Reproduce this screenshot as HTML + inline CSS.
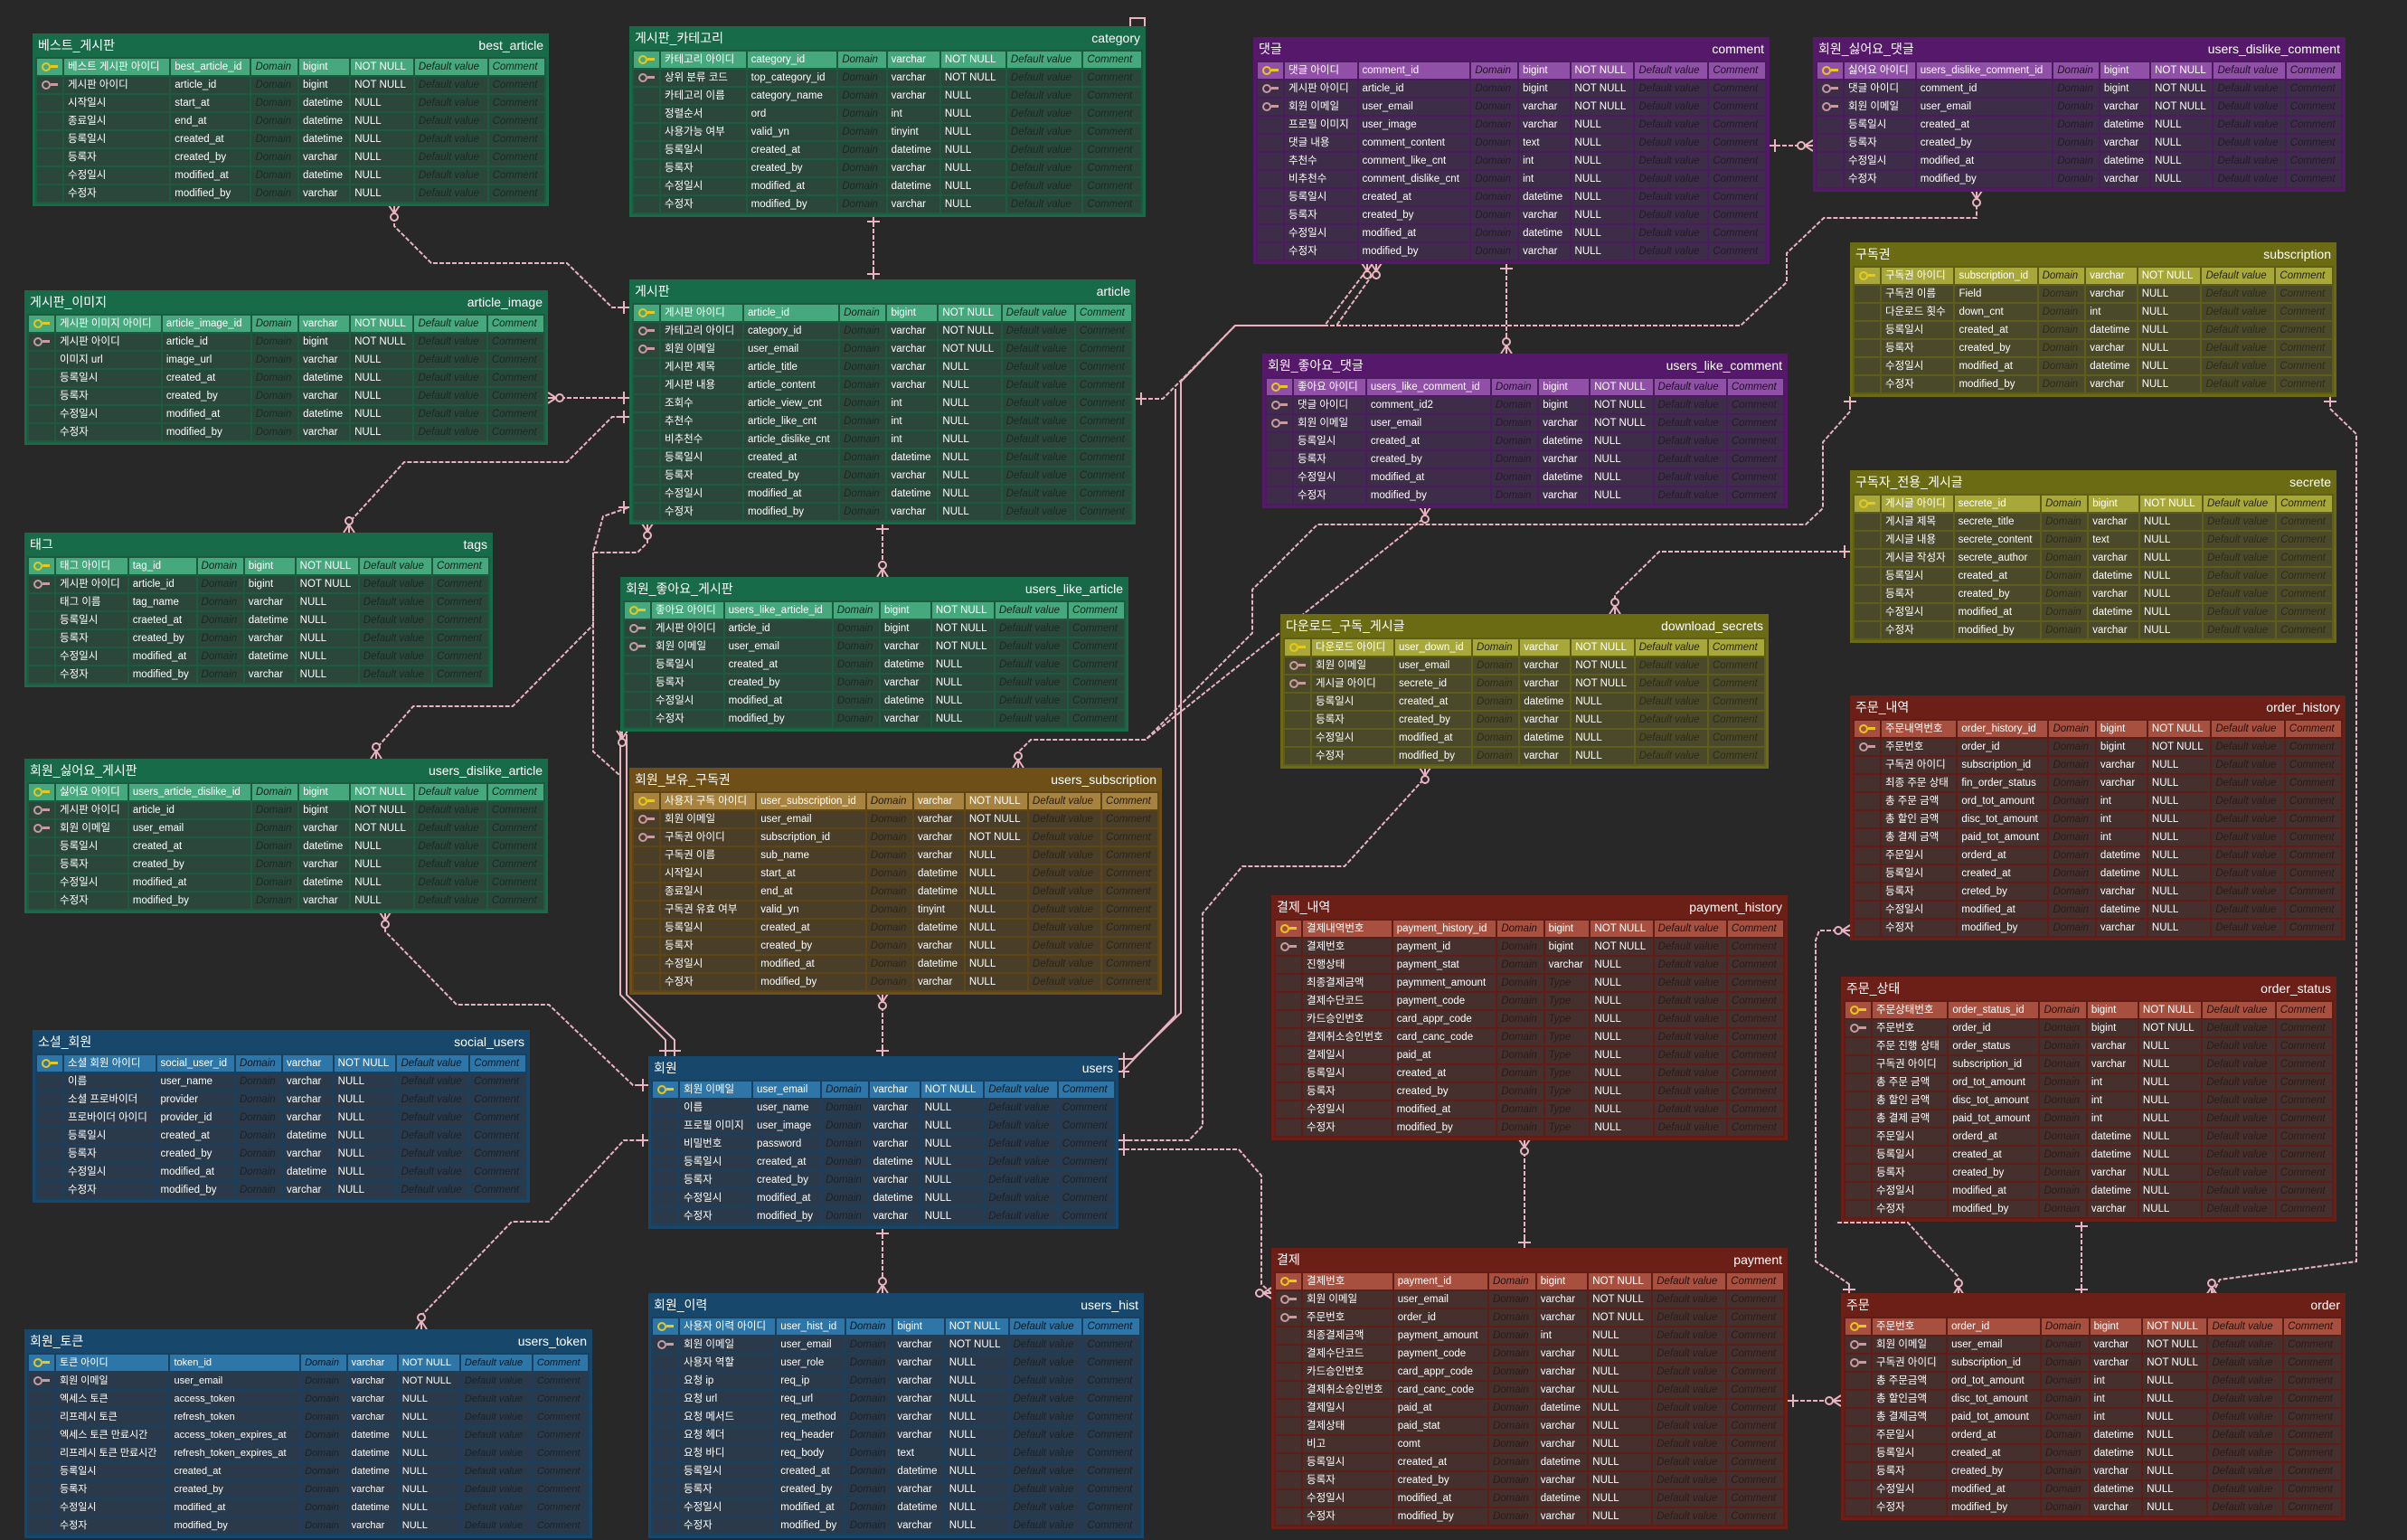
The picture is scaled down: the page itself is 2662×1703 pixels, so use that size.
<!DOCTYPE html>
<html><head><meta charset="utf-8">
<style>
html,body{margin:0;padding:0;background:#282828;}
body{width:2662px;height:1703px;position:relative;overflow:hidden;font-family:"Liberation Sans","Noto Sans CJK KR",sans-serif;}
svg.c{position:absolute;left:0;top:0;}
.t{position:absolute;box-sizing:border-box;padding:0 3px 3px;background:var(--c1);}
.h{height:26px;display:flex;justify-content:space-between;align-items:center;color:#fff;font-size:14px;padding:0 3px;}
table{width:100%;border-spacing:2px;background:var(--gp);font-size:11.5px;color:#fff;}
td{height:18px;line-height:18px;padding:0 4px;background:var(--bd);white-space:nowrap;overflow:hidden;}
td:first-child{width:22px;padding:0 3px;}
td:nth-child(4),td:nth-child(7),td:nth-child(8){font-style:italic;color:rgba(0,0,0,.42);}
tr:first-child td{background:var(--hd);}
tr:first-child td:nth-child(4),tr:first-child td:nth-child(7),tr:first-child td:nth-child(8){color:rgba(0,0,0,.8);}
i.k,i.f{display:inline-block;width:6px;height:6px;border:2px solid #e8c81c;border-radius:50%;position:relative;vertical-align:middle;margin-left:2px}
i.k::after,i.f::after{content:"";position:absolute;left:8px;top:1px;width:8px;height:3px;background:#e8c81c;}
i.f{border-color:#c99aa2;}i.f::after{background:#c99aa2;}
.gr{--c1:#176b48;--hd:#45a97d;--bd:#2b473c;--gp:#1d5a3f;}
.pu{--c1:#55186b;--hd:#9050a8;--bd:#3e2d48;--gp:#4a1c5e;}
.ol{--c1:#6b6b14;--hd:#a8a83a;--bd:#4a4a2a;--gp:#5e5e18;}
.br{--c1:#6e4f17;--hd:#a8833f;--bd:#4a3e28;--gp:#5e4516;}
.bl{--c1:#17476b;--hd:#2e75a8;--bd:#2a3a4a;--gp:#1a4060;}
.rd{--c1:#6b1f17;--hd:#a85040;--bd:#46302d;--gp:#5e1d17;}
</style></head><body>
<svg class="c" width="2662" height="1703" viewBox="0 0 2662 1703">
<defs>
<g id="cf" fill="none" stroke="#eab3c0" stroke-width="2"><path d="M-6,0 L0,9 M6,0 L0,9 M0,0 L0,18"/><circle cx="0" cy="13" r="4" fill="#282828"/></g>
<g id="on" fill="none" stroke="#eab3c0" stroke-width="2"><path d="M0,0 L0,12 M-7,6 L7,6"/></g>
</defs>
<g fill="none" stroke="#eab3c0" stroke-width="2" stroke-dasharray="5,2">
<polyline points="436,240 436,250 477,291 627,291 677,340 696,340"/>
<polyline points="606,440 696,440"/>
<polyline points="386,589 386,578 447,511 627,511 677,461 696,461"/>
<polyline points="416,839 416,828 457,781 567,781 656,691 656,611 667,571 696,561"/>
<polyline points="716,582 716,600 705,611 656,611 656,831 685,857"/>
<polyline points="426,1019 426,1030 505,1111 607,1111 700,1200 717,1200"/>
<polyline points="466,1470 466,1455 566,1351 607,1351 690,1261 717,1261"/>
<polyline points="966,239 966,309"/>
<polyline points="976,579 976,638"/>
<polyline points="976,1099 976,1168"/>
<polyline points="976,1358 976,1430"/>
<polyline points="2046,441 2046,455 2016,489 2016,562 1997,580 1457,580 1385,652 1385,700 1267,818 1140,818 1126,832 1126,849"/>
<polyline points="1576,561 1576,572 1267,818"/>
<polyline points="1256,441 1286,441 1366,360 1465,360 1512,298"/>
<polyline points="1522,298 1478,360"/>
<polyline points="1366,360 1925,360 1976,312 1976,280 2017,241 2186,241 2186,211"/>
<polyline points="1666,291 1666,391"/>
<polyline points="1957,161 2005,161"/>
<polyline points="2046,610 1835,610 1786,658 1786,679"/>
<polyline points="1576,849 1576,860 1487,958 1374,958 1330,1010 1330,1245 1315,1261 1237,1261"/>
<polyline points="1237,1271 1370,1271 1395,1300 1395,1420 1406,1430"/>
<polyline points="2046,1029 2012,1029 2008,1040 2008,1395 2045,1420 2045,1432"/>
<polyline points="1977,1549 2036,1549"/>
<polyline points="1686,1260 1686,1380"/>
<polyline points="2302,1350 2302,1430"/>
<polyline points="2577,438 2577,452 2606,480 2606,1395 2455,1415 2446,1432"/>
<polyline points="2166,1432 2166,1412 2135,1380 2110,1352 2030,1352"/>
</g>
<g fill="none" stroke="#eab3c0" stroke-width="2">
<polyline points="686,808 686,1100 736,1150 736,1168"/>
<polyline points="693,812 693,1100 746,1150 746,1168"/>
<polyline points="1366,360 1306,422 1306,1120 1253,1171 1237,1171"/>
<polyline points="1300,430 1300,1123 1241,1185 1237,1185"/>
<path d="M1250,29 V20 H1266 V50 H1257"/>
</g>
<use href="#cf" transform="translate(436,227)"/>
<use href="#on" transform="translate(696,340) rotate(90)"/>
<use href="#cf" transform="translate(606,440) rotate(-90)"/>
<use href="#on" transform="translate(696,440) rotate(90)"/>
<use href="#cf" transform="translate(386,589) rotate(180)"/>
<use href="#on" transform="translate(696,461) rotate(90)"/>
<use href="#cf" transform="translate(416,839) rotate(180)"/>
<use href="#on" transform="translate(696,561) rotate(90)"/>
<use href="#cf" transform="translate(716,579)"/>
<use href="#cf" transform="translate(688,808)"/>
<use href="#on" transform="translate(736,1168) rotate(180)"/>
<use href="#on" transform="translate(746,1168) rotate(180)"/>
<use href="#on" transform="translate(966,239)"/>
<use href="#on" transform="translate(966,309) rotate(180)"/>
<use href="#on" transform="translate(976,579)"/>
<use href="#cf" transform="translate(976,638) rotate(180)"/>
<use href="#cf" transform="translate(976,1099)"/>
<use href="#on" transform="translate(976,1168) rotate(180)"/>
<use href="#on" transform="translate(976,1358)"/>
<use href="#cf" transform="translate(976,1430) rotate(180)"/>
<use href="#cf" transform="translate(1126,849) rotate(180)"/>
<use href="#cf" transform="translate(426,1009)"/>
<use href="#on" transform="translate(717,1200) rotate(90)"/>
<use href="#cf" transform="translate(466,1470) rotate(180)"/>
<use href="#on" transform="translate(717,1261) rotate(90)"/>
<use href="#cf" transform="translate(1512,291)"/>
<use href="#cf" transform="translate(1522,291)"/>
<use href="#on" transform="translate(1666,291)"/>
<use href="#cf" transform="translate(1666,391) rotate(180)"/>
<use href="#cf" transform="translate(2186,211)"/>
<use href="#on" transform="translate(1957,161) rotate(-90)"/>
<use href="#cf" transform="translate(2005,161) rotate(90)"/>
<use href="#cf" transform="translate(1576,561)"/>
<use href="#on" transform="translate(2046,438)"/>
<use href="#on" transform="translate(2046,610) rotate(90)"/>
<use href="#cf" transform="translate(1786,679) rotate(180)"/>
<use href="#cf" transform="translate(1576,849)"/>
<use href="#on" transform="translate(1256,441) rotate(-90)"/>
<use href="#on" transform="translate(1237,1171) rotate(-90)"/>
<use href="#on" transform="translate(1237,1185) rotate(-90)"/>
<use href="#on" transform="translate(1237,1261) rotate(-90)"/>
<use href="#on" transform="translate(1237,1271) rotate(-90)"/>
<use href="#cf" transform="translate(1406,1430) rotate(90)"/>
<use href="#cf" transform="translate(2046,1029) rotate(90)"/>
<use href="#on" transform="translate(2045,1432) rotate(180)"/>
<use href="#on" transform="translate(1977,1549) rotate(-90)"/>
<use href="#cf" transform="translate(2036,1549) rotate(90)"/>
<use href="#cf" transform="translate(1686,1260)"/>
<use href="#on" transform="translate(1686,1380) rotate(180)"/>
<use href="#on" transform="translate(2302,1350)"/>
<use href="#on" transform="translate(2302,1432) rotate(180)"/>
<use href="#on" transform="translate(2577,438)"/>
<use href="#cf" transform="translate(2446,1432) rotate(180)"/>
<use href="#cf" transform="translate(2166,1432) rotate(180)"/>
</svg>

<div class="t gr" style="left:36px;top:37px;width:571px"><div class="h"><span>베스트_게시판</span><span>best_article</span></div><table>
<tr><td><i class=k></i><td>베스트 게시판 아이디<td>best_article_id<td>Domain<td>bigint<td>NOT NULL<td>Default value<td>Comment
<tr><td><i class=f></i><td>게시판 아이디<td>article_id<td>Domain<td>bigint<td>NOT NULL<td>Default value<td>Comment
<tr><td><td>시작일시<td>start_at<td>Domain<td>datetime<td>NULL<td>Default value<td>Comment
<tr><td><td>종료일시<td>end_at<td>Domain<td>datetime<td>NULL<td>Default value<td>Comment
<tr><td><td>등록일시<td>created_at<td>Domain<td>datetime<td>NULL<td>Default value<td>Comment
<tr><td><td>등록자<td>created_by<td>Domain<td>varchar<td>NULL<td>Default value<td>Comment
<tr><td><td>수정일시<td>modified_at<td>Domain<td>datetime<td>NULL<td>Default value<td>Comment
<tr><td><td>수정자<td>modified_by<td>Domain<td>varchar<td>NULL<td>Default value<td>Comment
</table></div>

<div class="t gr" style="left:696px;top:29px;width:571px"><div class="h"><span>게시판_카테고리</span><span>category</span></div><table>
<tr><td><i class=k></i><td>카테고리 아이디<td>category_id<td>Domain<td>varchar<td>NOT NULL<td>Default value<td>Comment
<tr><td><i class=f></i><td>상위 분류 코드<td>top_category_id<td>Domain<td>varchar<td>NOT NULL<td>Default value<td>Comment
<tr><td><td>카테고리 이름<td>category_name<td>Domain<td>varchar<td>NULL<td>Default value<td>Comment
<tr><td><td>정렬순서<td>ord<td>Domain<td>int<td>NULL<td>Default value<td>Comment
<tr><td><td>사용가능 여부<td>valid_yn<td>Domain<td>tinyint<td>NULL<td>Default value<td>Comment
<tr><td><td>등록일시<td>created_at<td>Domain<td>datetime<td>NULL<td>Default value<td>Comment
<tr><td><td>등록자<td>created_by<td>Domain<td>varchar<td>NULL<td>Default value<td>Comment
<tr><td><td>수정일시<td>modified_at<td>Domain<td>datetime<td>NULL<td>Default value<td>Comment
<tr><td><td>수정자<td>modified_by<td>Domain<td>varchar<td>NULL<td>Default value<td>Comment
</table></div>

<div class="t gr" style="left:27px;top:321px;width:579px"><div class="h"><span>게시판_이미지</span><span>article_image</span></div><table>
<tr><td><i class=k></i><td>게시판 이미지 아이디<td>article_image_id<td>Domain<td>varchar<td>NOT NULL<td>Default value<td>Comment
<tr><td><i class=f></i><td>게시판 아이디<td>article_id<td>Domain<td>bigint<td>NOT NULL<td>Default value<td>Comment
<tr><td><td>이미지 url<td>image_url<td>Domain<td>varchar<td>NULL<td>Default value<td>Comment
<tr><td><td>등록일시<td>created_at<td>Domain<td>datetime<td>NULL<td>Default value<td>Comment
<tr><td><td>등록자<td>created_by<td>Domain<td>varchar<td>NULL<td>Default value<td>Comment
<tr><td><td>수정일시<td>modified_at<td>Domain<td>datetime<td>NULL<td>Default value<td>Comment
<tr><td><td>수정자<td>modified_by<td>Domain<td>varchar<td>NULL<td>Default value<td>Comment
</table></div>

<div class="t gr" style="left:696px;top:309px;width:560px"><div class="h"><span>게시판</span><span>article</span></div><table>
<tr><td><i class=k></i><td>게시판 아이디<td>article_id<td>Domain<td>bigint<td>NOT NULL<td>Default value<td>Comment
<tr><td><i class=f></i><td>카테고리 아이디<td>category_id<td>Domain<td>varchar<td>NOT NULL<td>Default value<td>Comment
<tr><td><i class=f></i><td>회원 이메일<td>user_email<td>Domain<td>varchar<td>NOT NULL<td>Default value<td>Comment
<tr><td><td>게시판 제목<td>article_title<td>Domain<td>varchar<td>NULL<td>Default value<td>Comment
<tr><td><td>게시판 내용<td>article_content<td>Domain<td>varchar<td>NULL<td>Default value<td>Comment
<tr><td><td>조회수<td>article_view_cnt<td>Domain<td>int<td>NULL<td>Default value<td>Comment
<tr><td><td>추천수<td>article_like_cnt<td>Domain<td>int<td>NULL<td>Default value<td>Comment
<tr><td><td>비추천수<td>article_dislike_cnt<td>Domain<td>int<td>NULL<td>Default value<td>Comment
<tr><td><td>등록일시<td>created_at<td>Domain<td>datetime<td>NULL<td>Default value<td>Comment
<tr><td><td>등록자<td>created_by<td>Domain<td>varchar<td>NULL<td>Default value<td>Comment
<tr><td><td>수정일시<td>modified_at<td>Domain<td>datetime<td>NULL<td>Default value<td>Comment
<tr><td><td>수정자<td>modified_by<td>Domain<td>varchar<td>NULL<td>Default value<td>Comment
</table></div>

<div class="t gr" style="left:27px;top:589px;width:518px"><div class="h"><span>태그</span><span>tags</span></div><table>
<tr><td><i class=k></i><td>태그 아이디<td>tag_id<td>Domain<td>bigint<td>NOT NULL<td>Default value<td>Comment
<tr><td><i class=f></i><td>게시판 아이디<td>article_id<td>Domain<td>bigint<td>NOT NULL<td>Default value<td>Comment
<tr><td><td>태그 이름<td>tag_name<td>Domain<td>varchar<td>NULL<td>Default value<td>Comment
<tr><td><td>등록일시<td>craeted_at<td>Domain<td>datetime<td>NULL<td>Default value<td>Comment
<tr><td><td>등록자<td>created_by<td>Domain<td>varchar<td>NULL<td>Default value<td>Comment
<tr><td><td>수정일시<td>modified_at<td>Domain<td>datetime<td>NULL<td>Default value<td>Comment
<tr><td><td>수정자<td>modified_by<td>Domain<td>varchar<td>NULL<td>Default value<td>Comment
</table></div>

<div class="t gr" style="left:686px;top:638px;width:562px"><div class="h"><span>회원_좋아요_게시판</span><span>users_like_article</span></div><table>
<tr><td><i class=k></i><td>좋아요 아이디<td>users_like_article_id<td>Domain<td>bigint<td>NOT NULL<td>Default value<td>Comment
<tr><td><i class=f></i><td>게시판 아이디<td>article_id<td>Domain<td>bigint<td>NOT NULL<td>Default value<td>Comment
<tr><td><i class=f></i><td>회원 이메일<td>user_email<td>Domain<td>varchar<td>NOT NULL<td>Default value<td>Comment
<tr><td><td>등록일시<td>created_at<td>Domain<td>datetime<td>NULL<td>Default value<td>Comment
<tr><td><td>등록자<td>created_by<td>Domain<td>varchar<td>NULL<td>Default value<td>Comment
<tr><td><td>수정일시<td>modified_at<td>Domain<td>datetime<td>NULL<td>Default value<td>Comment
<tr><td><td>수정자<td>modified_by<td>Domain<td>varchar<td>NULL<td>Default value<td>Comment
</table></div>

<div class="t gr" style="left:27px;top:839px;width:579px"><div class="h"><span>회원_싫어요_게시판</span><span>users_dislike_article</span></div><table>
<tr><td><i class=k></i><td>싫어요 아이디<td>users_article_dislike_id<td>Domain<td>bigint<td>NOT NULL<td>Default value<td>Comment
<tr><td><i class=f></i><td>게시판 아이디<td>article_id<td>Domain<td>bigint<td>NOT NULL<td>Default value<td>Comment
<tr><td><i class=f></i><td>회원 이메일<td>user_email<td>Domain<td>varchar<td>NOT NULL<td>Default value<td>Comment
<tr><td><td>등록일시<td>created_at<td>Domain<td>datetime<td>NULL<td>Default value<td>Comment
<tr><td><td>등록자<td>created_by<td>Domain<td>varchar<td>NULL<td>Default value<td>Comment
<tr><td><td>수정일시<td>modified_at<td>Domain<td>datetime<td>NULL<td>Default value<td>Comment
<tr><td><td>수정자<td>modified_by<td>Domain<td>varchar<td>NULL<td>Default value<td>Comment
</table></div>

<div class="t br" style="left:696px;top:849px;width:589px"><div class="h"><span>회원_보유_구독권</span><span>users_subscription</span></div><table>
<tr><td><i class=k></i><td>사용자 구독 아이디<td>user_subscription_id<td>Domain<td>varchar<td>NOT NULL<td>Default value<td>Comment
<tr><td><i class=f></i><td>회원 이메일<td>user_email<td>Domain<td>varchar<td>NOT NULL<td>Default value<td>Comment
<tr><td><i class=f></i><td>구독권 아이디<td>subscription_id<td>Domain<td>varchar<td>NOT NULL<td>Default value<td>Comment
<tr><td><td>구독권 이름<td>sub_name<td>Domain<td>varchar<td>NULL<td>Default value<td>Comment
<tr><td><td>시작일시<td>start_at<td>Domain<td>datetime<td>NULL<td>Default value<td>Comment
<tr><td><td>종료일시<td>end_at<td>Domain<td>datetime<td>NULL<td>Default value<td>Comment
<tr><td><td>구독권 유효 여부<td>valid_yn<td>Domain<td>tinyint<td>NULL<td>Default value<td>Comment
<tr><td><td>등록일시<td>created_at<td>Domain<td>datetime<td>NULL<td>Default value<td>Comment
<tr><td><td>등록자<td>created_by<td>Domain<td>varchar<td>NULL<td>Default value<td>Comment
<tr><td><td>수정일시<td>modified_at<td>Domain<td>datetime<td>NULL<td>Default value<td>Comment
<tr><td><td>수정자<td>modified_by<td>Domain<td>varchar<td>NULL<td>Default value<td>Comment
</table></div>

<div class="t bl" style="left:36px;top:1139px;width:550px"><div class="h"><span>소셜_회원</span><span>social_users</span></div><table>
<tr><td><i class=k></i><td>소셜 회원 아이디<td>social_user_id<td>Domain<td>varchar<td>NOT NULL<td>Default value<td>Comment
<tr><td><td>이름<td>user_name<td>Domain<td>varchar<td>NULL<td>Default value<td>Comment
<tr><td><td>소셜 프로바이더<td>provider<td>Domain<td>varchar<td>NULL<td>Default value<td>Comment
<tr><td><td>프로바이더 아이디<td>provider_id<td>Domain<td>varchar<td>NULL<td>Default value<td>Comment
<tr><td><td>등록일시<td>created_at<td>Domain<td>datetime<td>NULL<td>Default value<td>Comment
<tr><td><td>등록자<td>created_by<td>Domain<td>varchar<td>NULL<td>Default value<td>Comment
<tr><td><td>수정일시<td>modified_at<td>Domain<td>datetime<td>NULL<td>Default value<td>Comment
<tr><td><td>수정자<td>modified_by<td>Domain<td>varchar<td>NULL<td>Default value<td>Comment
</table></div>

<div class="t bl" style="left:717px;top:1168px;width:520px"><div class="h"><span>회원</span><span>users</span></div><table>
<tr><td><i class=k></i><td>회원 이메일<td>user_email<td>Domain<td>varchar<td>NOT NULL<td>Default value<td>Comment
<tr><td><td>이름<td>user_name<td>Domain<td>varchar<td>NULL<td>Default value<td>Comment
<tr><td><td>프로필 이미지<td>user_image<td>Domain<td>varchar<td>NULL<td>Default value<td>Comment
<tr><td><td>비밀번호<td>password<td>Domain<td>varchar<td>NULL<td>Default value<td>Comment
<tr><td><td>등록일시<td>created_at<td>Domain<td>datetime<td>NULL<td>Default value<td>Comment
<tr><td><td>등록자<td>created_by<td>Domain<td>varchar<td>NULL<td>Default value<td>Comment
<tr><td><td>수정일시<td>modified_at<td>Domain<td>datetime<td>NULL<td>Default value<td>Comment
<tr><td><td>수정자<td>modified_by<td>Domain<td>varchar<td>NULL<td>Default value<td>Comment
</table></div>

<div class="t bl" style="left:27px;top:1470px;width:628px"><div class="h"><span>회원_토큰</span><span>users_token</span></div><table style="font-size:11px">
<tr><td><i class=k></i><td>토큰 아이디<td>token_id<td>Domain<td>varchar<td>NOT NULL<td>Default value<td>Comment
<tr><td><i class=f></i><td>회원 이메일<td>user_email<td>Domain<td>varchar<td>NOT NULL<td>Default value<td>Comment
<tr><td><td>엑세스 토큰<td>access_token<td>Domain<td>varchar<td>NULL<td>Default value<td>Comment
<tr><td><td>리프레시 토큰<td>refresh_token<td>Domain<td>varchar<td>NULL<td>Default value<td>Comment
<tr><td><td>엑세스 토큰 만료시간<td>access_token_expires_at<td>Domain<td>datetime<td>NULL<td>Default value<td>Comment
<tr><td><td>리프레시 토큰 만료시간<td>refresh_token_expires_at<td>Domain<td>datetime<td>NULL<td>Default value<td>Comment
<tr><td><td>등록일시<td>created_at<td>Domain<td>datetime<td>NULL<td>Default value<td>Comment
<tr><td><td>등록자<td>created_by<td>Domain<td>varchar<td>NULL<td>Default value<td>Comment
<tr><td><td>수정일시<td>modified_at<td>Domain<td>datetime<td>NULL<td>Default value<td>Comment
<tr><td><td>수정자<td>modified_by<td>Domain<td>varchar<td>NULL<td>Default value<td>Comment
</table></div>

<div class="t bl" style="left:717px;top:1430px;width:548px"><div class="h"><span>회원_이력</span><span>users_hist</span></div><table>
<tr><td><i class=k></i><td>사용자 이력 아이디<td>user_hist_id<td>Domain<td>bigint<td>NOT NULL<td>Default value<td>Comment
<tr><td><i class=f></i><td>회원 이메일<td>user_email<td>Domain<td>varchar<td>NOT NULL<td>Default value<td>Comment
<tr><td><td>사용자 역할<td>user_role<td>Domain<td>varchar<td>NULL<td>Default value<td>Comment
<tr><td><td>요청 ip<td>req_ip<td>Domain<td>varchar<td>NULL<td>Default value<td>Comment
<tr><td><td>요청 url<td>req_url<td>Domain<td>varchar<td>NULL<td>Default value<td>Comment
<tr><td><td>요청 메서드<td>req_method<td>Domain<td>varchar<td>NULL<td>Default value<td>Comment
<tr><td><td>요청 헤더<td>req_header<td>Domain<td>varchar<td>NULL<td>Default value<td>Comment
<tr><td><td>요청 바디<td>req_body<td>Domain<td>text<td>NULL<td>Default value<td>Comment
<tr><td><td>등록일시<td>created_at<td>Domain<td>datetime<td>NULL<td>Default value<td>Comment
<tr><td><td>등록자<td>created_by<td>Domain<td>varchar<td>NULL<td>Default value<td>Comment
<tr><td><td>수정일시<td>modified_at<td>Domain<td>datetime<td>NULL<td>Default value<td>Comment
<tr><td><td>수정자<td>modified_by<td>Domain<td>varchar<td>NULL<td>Default value<td>Comment
</table></div>

<div class="t pu" style="left:1386px;top:41px;width:571px"><div class="h"><span>댓글</span><span>comment</span></div><table>
<tr><td><i class=k></i><td>댓글 아이디<td>comment_id<td>Domain<td>bigint<td>NOT NULL<td>Default value<td>Comment
<tr><td><i class=f></i><td>게시판 아이디<td>article_id<td>Domain<td>bigint<td>NOT NULL<td>Default value<td>Comment
<tr><td><i class=f></i><td>회원 이메일<td>user_email<td>Domain<td>varchar<td>NOT NULL<td>Default value<td>Comment
<tr><td><td>프로필 이미지<td>user_image<td>Domain<td>varchar<td>NULL<td>Default value<td>Comment
<tr><td><td>댓글 내용<td>comment_content<td>Domain<td>text<td>NULL<td>Default value<td>Comment
<tr><td><td>추천수<td>comment_like_cnt<td>Domain<td>int<td>NULL<td>Default value<td>Comment
<tr><td><td>비추천수<td>comment_dislike_cnt<td>Domain<td>int<td>NULL<td>Default value<td>Comment
<tr><td><td>등록일시<td>created_at<td>Domain<td>datetime<td>NULL<td>Default value<td>Comment
<tr><td><td>등록자<td>created_by<td>Domain<td>varchar<td>NULL<td>Default value<td>Comment
<tr><td><td>수정일시<td>modified_at<td>Domain<td>datetime<td>NULL<td>Default value<td>Comment
<tr><td><td>수정자<td>modified_by<td>Domain<td>varchar<td>NULL<td>Default value<td>Comment
</table></div>

<div class="t pu" style="left:2005px;top:41px;width:589px"><div class="h"><span>회원_싫어요_댓글</span><span>users_dislike_comment</span></div><table>
<tr><td><i class=k></i><td>싫어요 아이디<td>users_dislike_comment_id<td>Domain<td>bigint<td>NOT NULL<td>Default value<td>Comment
<tr><td><i class=f></i><td>댓글 아이디<td>comment_id<td>Domain<td>bigint<td>NOT NULL<td>Default value<td>Comment
<tr><td><i class=f></i><td>회원 이메일<td>user_email<td>Domain<td>varchar<td>NOT NULL<td>Default value<td>Comment
<tr><td><td>등록일시<td>created_at<td>Domain<td>datetime<td>NULL<td>Default value<td>Comment
<tr><td><td>등록자<td>created_by<td>Domain<td>varchar<td>NULL<td>Default value<td>Comment
<tr><td><td>수정일시<td>modified_at<td>Domain<td>datetime<td>NULL<td>Default value<td>Comment
<tr><td><td>수정자<td>modified_by<td>Domain<td>varchar<td>NULL<td>Default value<td>Comment
</table></div>

<div class="t pu" style="left:1396px;top:391px;width:581px"><div class="h"><span>회원_좋아요_댓글</span><span>users_like_comment</span></div><table>
<tr><td><i class=k></i><td>좋아요 아이디<td>users_like_comment_id<td>Domain<td>bigint<td>NOT NULL<td>Default value<td>Comment
<tr><td><i class=f></i><td>댓글 아이디<td>comment_id2<td>Domain<td>bigint<td>NOT NULL<td>Default value<td>Comment
<tr><td><i class=f></i><td>회원 이메일<td>user_email<td>Domain<td>varchar<td>NOT NULL<td>Default value<td>Comment
<tr><td><td>등록일시<td>created_at<td>Domain<td>datetime<td>NULL<td>Default value<td>Comment
<tr><td><td>등록자<td>created_by<td>Domain<td>varchar<td>NULL<td>Default value<td>Comment
<tr><td><td>수정일시<td>modified_at<td>Domain<td>datetime<td>NULL<td>Default value<td>Comment
<tr><td><td>수정자<td>modified_by<td>Domain<td>varchar<td>NULL<td>Default value<td>Comment
</table></div>

<div class="t ol" style="left:2046px;top:268px;width:538px"><div class="h"><span>구독권</span><span>subscription</span></div><table>
<tr><td><i class=k></i><td>구독권 아이디<td>subscription_id<td>Domain<td>varchar<td>NOT NULL<td>Default value<td>Comment
<tr><td><td>구독권 이름<td>Field<td>Domain<td>varchar<td>NULL<td>Default value<td>Comment
<tr><td><td>다운로드 횟수<td>down_cnt<td>Domain<td>int<td>NULL<td>Default value<td>Comment
<tr><td><td>등록일시<td>created_at<td>Domain<td>datetime<td>NULL<td>Default value<td>Comment
<tr><td><td>등록자<td>created_by<td>Domain<td>varchar<td>NULL<td>Default value<td>Comment
<tr><td><td>수정일시<td>modified_at<td>Domain<td>datetime<td>NULL<td>Default value<td>Comment
<tr><td><td>수정자<td>modified_by<td>Domain<td>varchar<td>NULL<td>Default value<td>Comment
</table></div>

<div class="t ol" style="left:2046px;top:520px;width:538px"><div class="h"><span>구독자_전용_게시글</span><span>secrete</span></div><table>
<tr><td><i class=k></i><td>게시글 아이디<td>secrete_id<td>Domain<td>bigint<td>NOT NULL<td>Default value<td>Comment
<tr><td><td>게시글 제목<td>secrete_title<td>Domain<td>varchar<td>NULL<td>Default value<td>Comment
<tr><td><td>게시글 내용<td>secrete_content<td>Domain<td>text<td>NULL<td>Default value<td>Comment
<tr><td><td>게시글 작성자<td>secrete_author<td>Domain<td>varchar<td>NULL<td>Default value<td>Comment
<tr><td><td>등록일시<td>created_at<td>Domain<td>datetime<td>NULL<td>Default value<td>Comment
<tr><td><td>등록자<td>created_by<td>Domain<td>varchar<td>NULL<td>Default value<td>Comment
<tr><td><td>수정일시<td>modified_at<td>Domain<td>datetime<td>NULL<td>Default value<td>Comment
<tr><td><td>수정자<td>modified_by<td>Domain<td>varchar<td>NULL<td>Default value<td>Comment
</table></div>

<div class="t ol" style="left:1416px;top:679px;width:540px"><div class="h"><span>다운로드_구독_게시글</span><span>download_secrets</span></div><table>
<tr><td><i class=k></i><td>다운로드 아이디<td>user_down_id<td>Domain<td>varchar<td>NOT NULL<td>Default value<td>Comment
<tr><td><i class=f></i><td>회원 이메일<td>user_email<td>Domain<td>varchar<td>NOT NULL<td>Default value<td>Comment
<tr><td><i class=f></i><td>게시글 아이디<td>secrete_id<td>Domain<td>varchar<td>NOT NULL<td>Default value<td>Comment
<tr><td><td>등록일시<td>created_at<td>Domain<td>datetime<td>NULL<td>Default value<td>Comment
<tr><td><td>등록자<td>created_by<td>Domain<td>varchar<td>NULL<td>Default value<td>Comment
<tr><td><td>수정일시<td>modified_at<td>Domain<td>datetime<td>NULL<td>Default value<td>Comment
<tr><td><td>수정자<td>modified_by<td>Domain<td>varchar<td>NULL<td>Default value<td>Comment
</table></div>

<div class="t rd" style="left:2046px;top:769px;width:548px"><div class="h"><span>주문_내역</span><span>order_history</span></div><table>
<tr><td><i class=k></i><td>주문내역번호<td>order_history_id<td>Domain<td>bigint<td>NOT NULL<td>Default value<td>Comment
<tr><td><i class=f></i><td>주문번호<td>order_id<td>Domain<td>bigint<td>NOT NULL<td>Default value<td>Comment
<tr><td><td>구독권 아이디<td>subscription_id<td>Domain<td>varchar<td>NULL<td>Default value<td>Comment
<tr><td><td>최종 주문 상태<td>fin_order_status<td>Domain<td>varchar<td>NULL<td>Default value<td>Comment
<tr><td><td>총 주문 금액<td>ord_tot_amount<td>Domain<td>int<td>NULL<td>Default value<td>Comment
<tr><td><td>총 할인 금액<td>disc_tot_amount<td>Domain<td>int<td>NULL<td>Default value<td>Comment
<tr><td><td>총 결제 금액<td>paid_tot_amount<td>Domain<td>int<td>NULL<td>Default value<td>Comment
<tr><td><td>주문일시<td>orderd_at<td>Domain<td>datetime<td>NULL<td>Default value<td>Comment
<tr><td><td>등록일시<td>created_at<td>Domain<td>datetime<td>NULL<td>Default value<td>Comment
<tr><td><td>등록자<td>creted_by<td>Domain<td>varchar<td>NULL<td>Default value<td>Comment
<tr><td><td>수정일시<td>modified_at<td>Domain<td>datetime<td>NULL<td>Default value<td>Comment
<tr><td><td>수정자<td>modified_by<td>Domain<td>varchar<td>NULL<td>Default value<td>Comment
</table></div>

<div class="t rd" style="left:1406px;top:990px;width:571px"><div class="h"><span>결제_내역</span><span>payment_history</span></div><table>
<tr><td><i class=k></i><td>결제내역번호<td>payment_history_id<td>Domain<td>bigint<td>NOT NULL<td>Default value<td>Comment
<tr><td><i class=f></i><td>결제번호<td>payment_id<td>Domain<td>bigint<td>NOT NULL<td>Default value<td>Comment
<tr><td><td>진행상태<td>payment_stat<td>Domain<td>varchar<td>NULL<td>Default value<td>Comment
<tr><td><td>최종결제금액<td>paymment_amount<td>Domain<td style="font-style:italic;color:rgba(0,0,0,.42)">Type<td>NULL<td>Default value<td>Comment
<tr><td><td>결제수단코드<td>payment_code<td>Domain<td style="font-style:italic;color:rgba(0,0,0,.42)">Type<td>NULL<td>Default value<td>Comment
<tr><td><td>카드승인번호<td>card_appr_code<td>Domain<td style="font-style:italic;color:rgba(0,0,0,.42)">Type<td>NULL<td>Default value<td>Comment
<tr><td><td>결제취소승인번호<td>card_canc_code<td>Domain<td style="font-style:italic;color:rgba(0,0,0,.42)">Type<td>NULL<td>Default value<td>Comment
<tr><td><td>결제일시<td>paid_at<td>Domain<td style="font-style:italic;color:rgba(0,0,0,.42)">Type<td>NULL<td>Default value<td>Comment
<tr><td><td>등록일시<td>created_at<td>Domain<td style="font-style:italic;color:rgba(0,0,0,.42)">Type<td>NULL<td>Default value<td>Comment
<tr><td><td>등록자<td>created_by<td>Domain<td style="font-style:italic;color:rgba(0,0,0,.42)">Type<td>NULL<td>Default value<td>Comment
<tr><td><td>수정일시<td>modified_at<td>Domain<td style="font-style:italic;color:rgba(0,0,0,.42)">Type<td>NULL<td>Default value<td>Comment
<tr><td><td>수정자<td>modified_by<td>Domain<td style="font-style:italic;color:rgba(0,0,0,.42)">Type<td>NULL<td>Default value<td>Comment
</table></div>

<div class="t rd" style="left:2036px;top:1080px;width:548px"><div class="h"><span>주문_상태</span><span>order_status</span></div><table>
<tr><td><i class=k></i><td>주문상태번호<td>order_status_id<td>Domain<td>bigint<td>NOT NULL<td>Default value<td>Comment
<tr><td><i class=f></i><td>주문번호<td>order_id<td>Domain<td>bigint<td>NOT NULL<td>Default value<td>Comment
<tr><td><td>주문 진행 상태<td>order_status<td>Domain<td>varchar<td>NULL<td>Default value<td>Comment
<tr><td><td>구독권 아이디<td>subscription_id<td>Domain<td>varchar<td>NULL<td>Default value<td>Comment
<tr><td><td>총 주문 금액<td>ord_tot_amount<td>Domain<td>int<td>NULL<td>Default value<td>Comment
<tr><td><td>총 할인 금액<td>disc_tot_amount<td>Domain<td>int<td>NULL<td>Default value<td>Comment
<tr><td><td>총 결제 금액<td>paid_tot_amount<td>Domain<td>int<td>NULL<td>Default value<td>Comment
<tr><td><td>주문일시<td>orderd_at<td>Domain<td>datetime<td>NULL<td>Default value<td>Comment
<tr><td><td>등록일시<td>created_at<td>Domain<td>datetime<td>NULL<td>Default value<td>Comment
<tr><td><td>등록자<td>created_by<td>Domain<td>varchar<td>NULL<td>Default value<td>Comment
<tr><td><td>수정일시<td>modified_at<td>Domain<td>datetime<td>NULL<td>Default value<td>Comment
<tr><td><td>수정자<td>modified_by<td>Domain<td>varchar<td>NULL<td>Default value<td>Comment
</table></div>

<div class="t rd" style="left:1406px;top:1380px;width:571px"><div class="h"><span>결제</span><span>payment</span></div><table>
<tr><td><i class=k></i><td>결제번호<td>payment_id<td>Domain<td>bigint<td>NOT NULL<td>Default value<td>Comment
<tr><td><i class=f></i><td>회원 이메일<td>user_email<td>Domain<td>varchar<td>NOT NULL<td>Default value<td>Comment
<tr><td><i class=f></i><td>주문번호<td>order_id<td>Domain<td>varchar<td>NOT NULL<td>Default value<td>Comment
<tr><td><td>최종결제금액<td>payment_amount<td>Domain<td>int<td>NULL<td>Default value<td>Comment
<tr><td><td>결제수단코드<td>payment_code<td>Domain<td>varchar<td>NULL<td>Default value<td>Comment
<tr><td><td>카드승인번호<td>card_appr_code<td>Domain<td>varchar<td>NULL<td>Default value<td>Comment
<tr><td><td>결제취소승인번호<td>card_canc_code<td>Domain<td>varchar<td>NULL<td>Default value<td>Comment
<tr><td><td>결제일시<td>paid_at<td>Domain<td>datetime<td>NULL<td>Default value<td>Comment
<tr><td><td>결제상태<td>paid_stat<td>Domain<td>varchar<td>NULL<td>Default value<td>Comment
<tr><td><td>비고<td>comt<td>Domain<td>varchar<td>NULL<td>Default value<td>Comment
<tr><td><td>등록일시<td>created_at<td>Domain<td>datetime<td>NULL<td>Default value<td>Comment
<tr><td><td>등록자<td>created_by<td>Domain<td>varchar<td>NULL<td>Default value<td>Comment
<tr><td><td>수정일시<td>modified_at<td>Domain<td>datetime<td>NULL<td>Default value<td>Comment
<tr><td><td>수정자<td>modified_by<td>Domain<td>varchar<td>NULL<td>Default value<td>Comment
</table></div>

<div class="t rd" style="left:2036px;top:1430px;width:558px"><div class="h"><span>주문</span><span>order</span></div><table>
<tr><td><i class=k></i><td>주문번호<td>order_id<td>Domain<td>bigint<td>NOT NULL<td>Default value<td>Comment
<tr><td><i class=f></i><td>회원 이메일<td>user_email<td>Domain<td>varchar<td>NOT NULL<td>Default value<td>Comment
<tr><td><i class=f></i><td>구독권 아이디<td>subscription_id<td>Domain<td>varchar<td>NOT NULL<td>Default value<td>Comment
<tr><td><td>총 주문금액<td>ord_tot_amount<td>Domain<td>int<td>NULL<td>Default value<td>Comment
<tr><td><td>총 할인금액<td>disc_tot_amount<td>Domain<td>int<td>NULL<td>Default value<td>Comment
<tr><td><td>총 결제금액<td>paid_tot_amount<td>Domain<td>int<td>NULL<td>Default value<td>Comment
<tr><td><td>주문일시<td>orderd_at<td>Domain<td>datetime<td>NULL<td>Default value<td>Comment
<tr><td><td>등록일시<td>created_at<td>Domain<td>datetime<td>NULL<td>Default value<td>Comment
<tr><td><td>등록자<td>created_by<td>Domain<td>varchar<td>NULL<td>Default value<td>Comment
<tr><td><td>수정일시<td>modified_at<td>Domain<td>datetime<td>NULL<td>Default value<td>Comment
<tr><td><td>수정자<td>modified_by<td>Domain<td>varchar<td>NULL<td>Default value<td>Comment
</table></div>

</body></html>
